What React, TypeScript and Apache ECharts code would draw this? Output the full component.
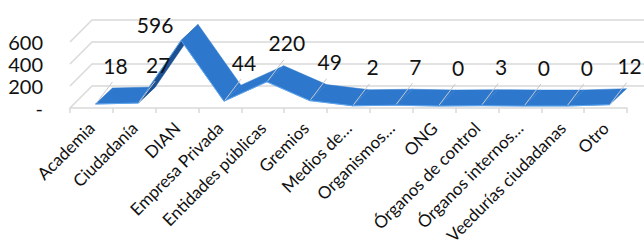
import React, { useEffect, useRef } from "react";
import * as echarts from "echarts";

const categories = [
  "Academia",
  "Ciudadanía",
  "DIAN",
  "Empresa Privada",
  "Entidades públicas",
  "Gremios",
  "Medios de…",
  "Organismos…",
  "ONG",
  "Órganos de control",
  "Órganos internos…",
  "Veedurías ciudadanas",
  "Otro",
];
const values = [18, 27, 596, 44, 220, 49, 2, 7, 0, 3, 0, 0, 12];
const yTicks = [0, 200, 400, 600];

export default function App() {
  const ref = useRef<HTMLDivElement>(null);
  useEffect(() => {
    const chart = echarts.init(ref.current!, null, { renderer: "svg" });
    const FONT = "Lato, 'Open Sans', sans-serif";
    const WALL_DX = 22,
      WALL_DY = -22;
    const F_DX = 4,
      F_DY = -2,
      B_DX = 21,
      B_DY = -18;
    const maxV = Math.max(...values);
    const n = values.length;

    chart.setOption({
      animation: false,
      grid: { left: 70, right: 17, top: 42, bottom: 139 },
      xAxis: {
        type: "category",
        data: categories,
        boundaryGap: true,
        axisLine: { lineStyle: { color: "#d9d9d9", width: 1.5 } },
        axisTick: { show: true, length: 5, lineStyle: { color: "#d9d9d9", width: 1.5 } },
        axisLabel: {
          interval: 0,
          rotate: 45,
          margin: 17,
          fontFamily: FONT,
          fontSize: 17,
          color: "#111",
        },
      },
      yAxis: {
        type: "value",
        min: 0,
        max: 600,
        interval: 200,
        axisLine: { show: false },
        axisTick: { show: false },
        splitLine: { show: false },
        axisLabel: {
          margin: 27,
          fontFamily: FONT,
          fontSize: 20,
          lineHeight: 20,
          color: "#111",
          formatter: (v: number) => (v === 0 ? "-" : String(v)),
        },
      },
      series: [
        {
          type: "custom",
          silent: true,
          clip: false,
          z: 1,
          data: yTicks.map((v) => [0, v]),
          encode: { x: 0, y: 1 },
          renderItem: (params: any, api: any) => {
            const cs = params.coordSys;
            const y = api.coord([0, api.value(1)])[1];
            const x0 = cs.x;
            const x1 = cs.x + cs.width;
            return {
              type: "polyline",
              shape: {
                points: [
                  [x0, y],
                  [x0 + WALL_DX, y + WALL_DY],
                  [x1 + WALL_DX, y + WALL_DY],
                ],
              },
              style: { stroke: "#d9d9d9", lineWidth: 1.5, fill: "none" },
            };
          },
        },
        {
          type: "custom",
          silent: true,
          clip: false,
          z: 2,
          data: values.map((v, i) => [i, v]),
          encode: { x: 0, y: 1 },
          renderItem: (params: any, api: any) => {
            const i = params.dataIndex;
            const v = values[i];
            const p = api.coord([i, v]);
            const children: any[] = [];
            const dX = B_DX - F_DX,
              dY = B_DY - F_DY;
            if (i < n - 1) {
              const q = api.coord([i + 1, values[i + 1]]);
              const sx = q[0] - p[0],
                sy = q[1] - p[1];
              const cross = sx * dY - sy * dX;
              const fill = cross < 0 ? "#2d78cd" : "#1b5093";
              children.push({
                type: "polygon",
                z2: 1,
                shape: {
                  points: [
                    [p[0] + F_DX, p[1] + F_DY],
                    [q[0] + F_DX, q[1] + F_DY],
                    [q[0] + B_DX, q[1] + B_DY],
                    [p[0] + B_DX, p[1] + B_DY],
                  ],
                },
                style: { fill, stroke: fill, lineWidth: 0.5 },
              });
              children.push({
                type: "line",
                z2: 2,
                shape: {
                  x1: p[0] + F_DX,
                  y1: p[1] + F_DY,
                  x2: q[0] + F_DX,
                  y2: q[1] + F_DY,
                },
                style: { stroke: "#5da4ee", lineWidth: 1 },
              });
            }
            const fx = p[0] + F_DX,
              fy = p[1] + F_DY;
            if (v === maxV) {
              children.push({
                type: "text",
                z2: 10,
                style: {
                  text: String(v),
                  x: fx - 26,
                  y: fy - 16,
                  align: "center",
                  verticalAlign: "middle",
                  fontFamily: FONT,
                  fontSize: 21,
                  fill: "#111",
                },
              });
            } else {
              children.push({
                type: "line",
                z2: 5,
                shape: { x1: fx + 1, y1: fy - 1, x2: fx + 17, y2: fy - 22 },
                style: { stroke: "#c3c8d0", lineWidth: 1 },
              });
              children.push({
                type: "text",
                z2: 10,
                style: {
                  text: String(v),
                  x: fx + 20,
                  y: fy - 39,
                  align: "center",
                  verticalAlign: "middle",
                  fontFamily: FONT,
                  fontSize: 21,
                  fill: "#111",
                },
              });
            }
            return { type: "group", children };
          },
        },
      ],
    });
    return () => chart.dispose();
  }, []);
  return (
    <div
      ref={ref}
      style={{ position: "fixed", left: 0, top: 0, width: 644, height: 247, background: "#fff" }}
    />
  );
}
